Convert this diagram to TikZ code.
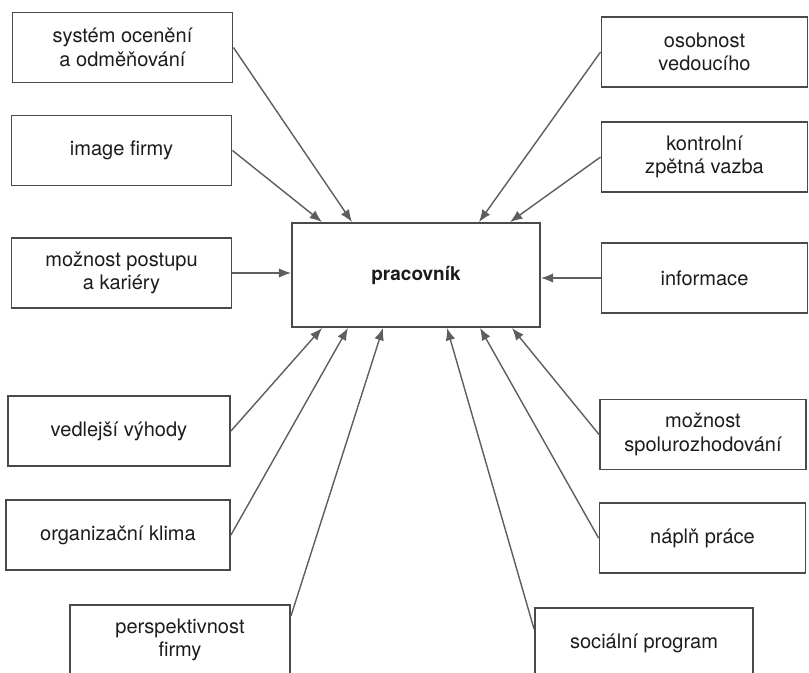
\documentclass[tikz,border=0pt]{standalone}
\usepackage{fontspec}
\setmainfont{TeX Gyre Heros}
\usepackage{xcolor}
\usepackage{tikz}
\usetikzlibrary{calc,arrows.meta}
\definecolor{FrameGray}{HTML}{4A4A4A}
\definecolor{LinkGray}{HTML}{5E5E5E}
\definecolor{InkGray}{HTML}{1C1C1C}

\begin{document}
\begin{tikzpicture}[x=0.02cm, y=-0.02cm,
    every node/.style={font=\fontsize{11.4}{13.4}\selectfont, text=InkGray}]

    \tikzstyle{box}=[
      draw=FrameGray,
      line width=1.1pt,
      align=center,
      minimum width=4.4cm,
      minimum height=1.4cm
    ]
    \tikzstyle{rbox}=[box, minimum width=4.12cm]
    \tikzstyle{link}=[
      draw=LinkGray,
      line width=0.8pt,
      -{Latex[length=7pt,width=5.5pt]}
    ]

    \useasboundingbox (0,0) rectangle (809,673);
    \clip (0,0) rectangle (809,673);

    % --- Centre ---
    \node[box, minimum width=4.96cm, minimum height=2.08cm, font=\fontsize{10.8}{13}\selectfont\bfseries] (prac) at (416,275) {pracovník};

    % --- Left column ---
    \node[box] (ocen) at (122.5,47.5) {systém ocenění\\ a odměňování};
    \node[box] (image) at (121.5,150.5) {image firmy};
    \node[box] (postup) at (121.5,273) {možnost postupu\\ a kariéry};
    \node[box, minimum width=4.44cm] (vyhody) at (119,431) {vedlejší výhody};
    \node[box, minimum width=4.48cm] (klima) at (118,535) {organizační klima};
    \node[box] (persp) at (180,640) {perspektivnost\\ firmy};

    % --- Right column ---
    \node[rbox] (osob) at (704.5,52) {osobnost\\ vedoucího};
    \node[rbox] (kontrola) at (704.5,157) {kontrolní\\ zpětná vazba};
    \node[rbox] (info) at (704.5,278) {informace};
    \node[rbox] (spolu) at (703,434.5) {možnost\\ spolurozhodování};
    \node[rbox] (napln) at (702.5,538) {náplň práce};
    \node[box, minimum width=4.36cm] (social) at (644,643) {sociální program};

    % --- Arrows from above ---
    \draw[link] (ocen.east) -- ($(prac.north)+(-64,0)$);
    \draw[link] (image.east) -- ($(prac.north)+(-94,0)$);
    \draw[link] (osob.west) -- ($(prac.north)+(63,0)$);
    \draw[link] (kontrola.west) -- ($(prac.north)+(94,0)$);

    % --- Side arrows ---
    \draw[link] (postup.east) -- (postup.east -| prac.west);
    \draw[link] (info.west) -- (info.west -| prac.east);

    % --- Arrows from below ---
    \draw[link] (vyhody.east) -- ($(prac.south)+(-94,0)$);
    \draw[link] (klima.east) -- ($(prac.south)+(-68,0)$);
    \draw[link] ($(persp.north east)+(0,12)$) -- ($(prac.south)+(-33,0)$);
    \draw[link] ($(social.north west)+(0,22)$) -- ($(prac.south)+(31,0)$);
    \draw[link] (napln.west) -- ($(prac.south)+(64,0)$);
    \draw[link] (spolu.west) -- ($(prac.south)+(96,0)$);

\end{tikzpicture}
\end{document}
